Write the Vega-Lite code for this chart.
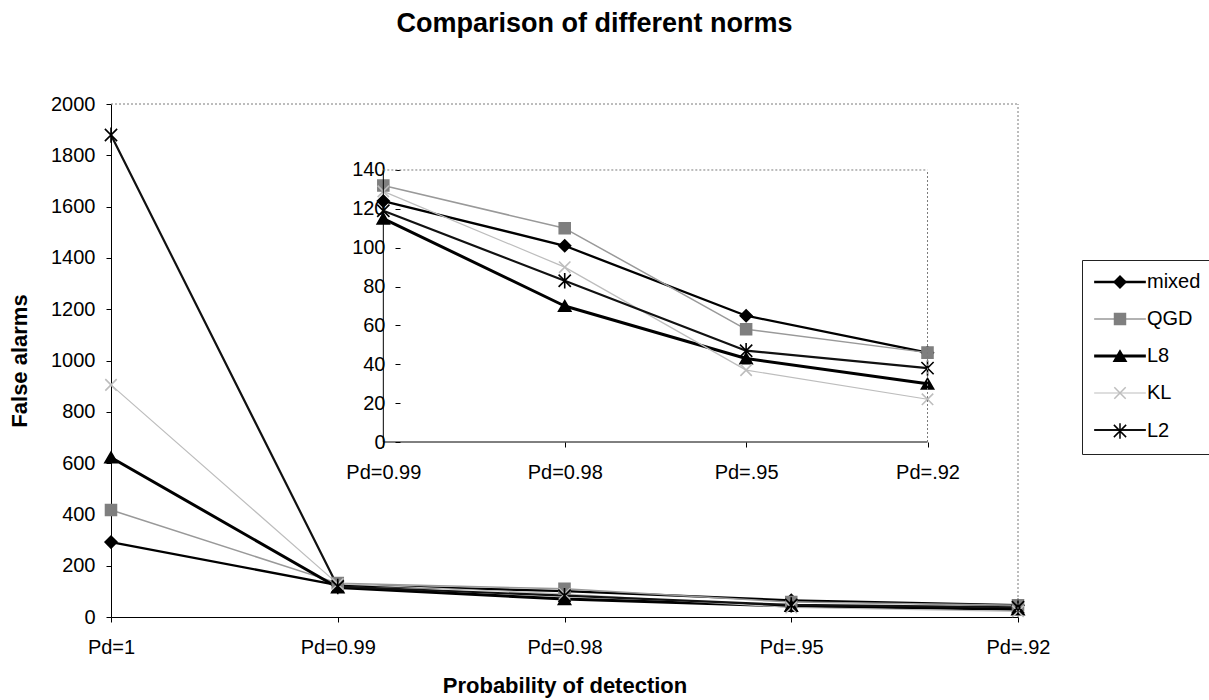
{
  "$schema": "https://vega.github.io/schema/vega-lite/v6.json",
  "width": 907,
  "height": 513,
  "autosize": {"type": "none"},
  "padding": {"left": 111, "top": 104, "right": 191, "bottom": 83},
  "background": "white",
  "title": {
    "text": "Comparison of different norms",
    "fontSize": 27,
    "fontWeight": "bold",
    "color": "black",
    "anchor": "middle",
    "frame": "group",
    "dx": 30,
    "offset": 35,
    "baseline": "alphabetic"
  },
  "config": {
    "font": "Liberation Sans",
    "view": {"stroke": null},
    "axis": {
      "labelFont": "Liberation Sans",
      "labelColor": "black",
      "labelFontSize": 20,
      "domainColor": "black",
      "domainWidth": 1,
      "tickColor": "black",
      "tickSize": 5,
      "grid": false,
      "titleFont": "Liberation Sans",
      "titleFontSize": 22,
      "titleFontWeight": "bold",
      "titleColor": "black"
    },
    "legend": {"labelFont": "Liberation Sans", "labelFontSize": 20, "labelColor": "black"}
  },
  "datasets": {
    "fa": [
      {"pd": "Pd=1", "norm": "mixed", "fa": 292},
      {"pd": "Pd=1", "norm": "QGD", "fa": 417},
      {"pd": "Pd=1", "norm": "L8", "fa": 622},
      {"pd": "Pd=1", "norm": "KL", "fa": 905},
      {"pd": "Pd=1", "norm": "L2", "fa": 1879},
      {"pd": "Pd=0.99", "norm": "mixed", "fa": 124},
      {"pd": "Pd=0.99", "norm": "QGD", "fa": 132},
      {"pd": "Pd=0.99", "norm": "L8", "fa": 115},
      {"pd": "Pd=0.99", "norm": "KL", "fa": 129},
      {"pd": "Pd=0.99", "norm": "L2", "fa": 119},
      {"pd": "Pd=0.98", "norm": "mixed", "fa": 101},
      {"pd": "Pd=0.98", "norm": "QGD", "fa": 110},
      {"pd": "Pd=0.98", "norm": "L8", "fa": 70},
      {"pd": "Pd=0.98", "norm": "KL", "fa": 90},
      {"pd": "Pd=0.98", "norm": "L2", "fa": 83},
      {"pd": "Pd=.95", "norm": "mixed", "fa": 65},
      {"pd": "Pd=.95", "norm": "QGD", "fa": 58},
      {"pd": "Pd=.95", "norm": "L8", "fa": 43},
      {"pd": "Pd=.95", "norm": "KL", "fa": 37},
      {"pd": "Pd=.95", "norm": "L2", "fa": 47},
      {"pd": "Pd=.92", "norm": "mixed", "fa": 46},
      {"pd": "Pd=.92", "norm": "QGD", "fa": 46},
      {"pd": "Pd=.92", "norm": "L8", "fa": 30},
      {"pd": "Pd=.92", "norm": "KL", "fa": 22},
      {"pd": "Pd=.92", "norm": "L2", "fa": 38}
    ]
  },
  "layer": [
    {
      "data": {"name": "fa"},
      "layer": [
        {
          "mark": {"type": "line", "strokeJoin": "round"},
          "encoding": {
            "x": {
              "field": "pd", "type": "ordinal",
              "scale": {"type": "point", "domain": ["Pd=1", "Pd=0.99", "Pd=0.98", "Pd=.95", "Pd=.92"], "padding": 0},
              "axis": {"orient": "bottom", "labelAngle": 0, "labelPadding": 15, "title": "Probability of detection", "titleY": 75, "titleBaseline": "alphabetic"}
            },
            "y": {
              "field": "fa", "type": "quantitative",
              "scale": {"domain": [0, 2000], "nice": false},
              "axis": {"values": [0, 200, 400, 600, 800, 1000, 1200, 1400, 1600, 1800, 2000], "format": "d", "labelPadding": 11, "title": "False alarms", "titlePadding": 19}
            },
            "color": {
              "field": "norm", "type": "nominal",
              "scale": {"domain": ["mixed", "QGD", "L8", "KL", "L2"], "range": ["#000000", "#999999", "#000000", "#bdbdbd", "#111111"]},
              "legend": {
                "orient": "none", "legendX": 971, "legendY": 156,
                "title": null,
                "padding": 12,
                "symbolOffset": 16,
                "rowPadding": 17,
                "labelExpr": "' '",
                "symbolType": "M-4.7,0H4.7",
                "symbolSize": 121
              }
            },
            "strokeWidth": {
              "field": "norm", "type": "nominal",
              "scale": {"type": "ordinal", "domain": ["mixed", "QGD", "L8", "KL", "L2"], "range": [2.3, 1.5, 3, 1.2, 2.2]}
            }
          }
        },
        {
          "mark": {"type": "point", "opacity": 1, "strokeWidth": 1.6},
          "encoding": {
            "x": {"field": "pd", "type": "ordinal", "scale": {"type": "point", "domain": ["Pd=1", "Pd=0.99", "Pd=0.98", "Pd=.95", "Pd=.92"], "padding": 0}},
            "y": {"field": "fa", "type": "quantitative", "scale": {"domain": [0, 2000], "nice": false}},
            "shape": {
              "field": "norm", "type": "nominal",
              "scale": {"domain": ["mixed", "QGD", "L8", "KL", "L2", "_"], "range": ["diamond", "square", "triangle-up", "M-1,-1L1,1M-1,1L1,-1", "M-1,-1L1,1M-1,1L1,-1M0,-1.25L0,1.25", "circle"]},
              "legend": {
                "orient": "none", "legendX": 971, "legendY": 156,
                "title": null,
                "values": ["mixed", "QGD", "L8", "KL", "L2"],
                "padding": 12,
                "symbolOffset": 16,
                "labelOffset": 17,
                "rowPadding": 17,
                "strokeColor": "#222222"
              }
            },
            "fill": {"field": "norm", "type": "nominal", "scale": {"domain": ["mixed", "QGD", "L8", "KL", "L2", "_"], "range": ["#000000", "#7f7f7f", "#000000", "transparent", "transparent", "transparent"]}},
            "stroke": {"field": "norm", "type": "nominal", "scale": {"domain": ["mixed", "QGD", "L8", "KL", "L2", "_"], "range": ["#000000", "#7f7f7f", "#000000", "#bdbdbd", "#000000", "#000000"]}},
            "size": {"field": "norm", "type": "nominal", "scale": {"type": "ordinal", "domain": ["mixed", "QGD", "L8", "KL", "L2", "_"], "range": [140, 120, 150, 130, 150, 100]}}
          }
        },
        {
          "data": {"values": [{}]},
          "mark": {"type": "rule", "color": "#7a7a7a", "strokeWidth": 1, "strokeDash": [2, 2]},
          "encoding": {
            "x": {"datum": "Pd=1", "type": "ordinal", "scale": {"type": "point", "domain": ["Pd=1", "Pd=0.99", "Pd=0.98", "Pd=.95", "Pd=.92"], "padding": 0}},
            "x2": {"datum": "Pd=.92"},
            "y": {"datum": 2000, "type": "quantitative"}
          }
        },
        {
          "data": {"values": [{}]},
          "mark": {"type": "rule", "color": "#7a7a7a", "strokeWidth": 1, "strokeDash": [2, 2]},
          "encoding": {
            "x": {"datum": "Pd=.92", "type": "ordinal", "scale": {"type": "point", "domain": ["Pd=1", "Pd=0.99", "Pd=0.98", "Pd=.95", "Pd=.92"], "padding": 0}},
            "y": {"datum": 0, "type": "quantitative"},
            "y2": {"datum": 2000}
          }
        }
      ]
    },
    {
      "data": {"name": "fa"},
      "layer": [
        {
          "transform": [{"filter": "datum.pd !== 'Pd=1'"}],
          "mark": {"type": "line", "strokeJoin": "round"},
          "encoding": {
            "x": {
              "field": "pd", "type": "ordinal",
              "scale": {"type": "point", "domain": ["Pd=0.99", "Pd=0.98", "Pd=.95", "Pd=.92"], "padding": 1.1063, "align": 0.7506},
              "axis": {"orient": "bottom", "offset": -175, "domain": false, "labelAngle": 0, "labelPadding": 15, "title": null}
            },
            "y": {
              "field": "fa", "type": "quantitative",
              "scale": {"domain": [-90.07, 173.97], "nice": false, "zero": false},
              "axis": {"orient": "left", "offset": -289, "domain": false, "values": [0, 20, 40, 60, 80, 100, 120, 140], "labelPadding": 10, "title": null}
            },
            "color": {"field": "norm", "type": "nominal", "scale": {"domain": ["mixed", "QGD", "L8", "KL", "L2"], "range": ["#000000", "#999999", "#000000", "#bdbdbd", "#111111"]}},
            "strokeWidth": {"field": "norm", "type": "nominal", "scale": {"type": "ordinal", "domain": ["mixed", "QGD", "L8", "KL", "L2"], "range": [2.3, 1.5, 3, 1.2, 2.2]}}
          }
        },
        {
          "transform": [{"filter": "datum.pd !== 'Pd=1'"}],
          "mark": {"type": "point", "opacity": 1, "strokeWidth": 1.6},
          "encoding": {
            "x": {"field": "pd", "type": "ordinal", "scale": {"type": "point", "domain": ["Pd=0.99", "Pd=0.98", "Pd=.95", "Pd=.92"], "padding": 1.1063, "align": 0.7506}},
            "y": {"field": "fa", "type": "quantitative", "scale": {"domain": [-90.07, 173.97], "nice": false, "zero": false}},
            "shape": {"field": "norm", "type": "nominal", "scale": {"domain": ["mixed", "QGD", "L8", "KL", "L2", "_"], "range": ["diamond", "square", "triangle-up", "M-1,-1L1,1M-1,1L1,-1", "M-1,-1L1,1M-1,1L1,-1M0,-1.25L0,1.25", "circle"]}},
            "fill": {"field": "norm", "type": "nominal", "scale": {"domain": ["mixed", "QGD", "L8", "KL", "L2", "_"], "range": ["#000000", "#7f7f7f", "#000000", "transparent", "transparent", "transparent"]}},
            "stroke": {"field": "norm", "type": "nominal", "scale": {"domain": ["mixed", "QGD", "L8", "KL", "L2", "_"], "range": ["#000000", "#7f7f7f", "#000000", "#bdbdbd", "#000000", "#000000"]}},
            "size": {"field": "norm", "type": "nominal", "scale": {"type": "ordinal", "domain": ["mixed", "QGD", "L8", "KL", "L2", "_"], "range": [140, 120, 150, 130, 150, 100]}}
          }
        },
        {
          "data": {"values": [{}]},
          "mark": {"type": "rule", "color": "#000000", "strokeWidth": 1},
          "encoding": {
            "x": {"datum": "Pd=0.99", "type": "ordinal", "scale": {"type": "point", "domain": ["Pd=0.99", "Pd=0.98", "Pd=.95", "Pd=.92"], "padding": 1.1063, "align": 0.7506}},
            "x2": {"datum": "Pd=.92"},
            "y": {"datum": 0, "type": "quantitative", "scale": {"domain": [-90.07, 173.97], "nice": false, "zero": false}}
          }
        },
        {
          "data": {"values": [{}]},
          "mark": {"type": "rule", "color": "#000000", "strokeWidth": 1},
          "encoding": {
            "x": {"datum": "Pd=0.99", "type": "ordinal"},
            "y": {"datum": 0, "type": "quantitative"},
            "y2": {"datum": 140}
          }
        },
        {
          "data": {"values": [{}]},
          "mark": {"type": "rule", "color": "#7a7a7a", "strokeWidth": 1, "strokeDash": [2, 2]},
          "encoding": {
            "x": {"datum": "Pd=0.99", "type": "ordinal"},
            "x2": {"datum": "Pd=.92"},
            "y": {"datum": 140, "type": "quantitative"}
          }
        },
        {
          "data": {"values": [{}]},
          "mark": {"type": "rule", "color": "#7a7a7a", "strokeWidth": 1, "strokeDash": [2, 2]},
          "encoding": {
            "x": {"datum": "Pd=.92", "type": "ordinal"},
            "y": {"datum": 0, "type": "quantitative"},
            "y2": {"datum": 140}
          }
        }
      ]
    }
  ],
  "resolve": {"scale": {"x": "independent", "y": "independent"}, "axis": {"x": "independent", "y": "independent"}}
}
